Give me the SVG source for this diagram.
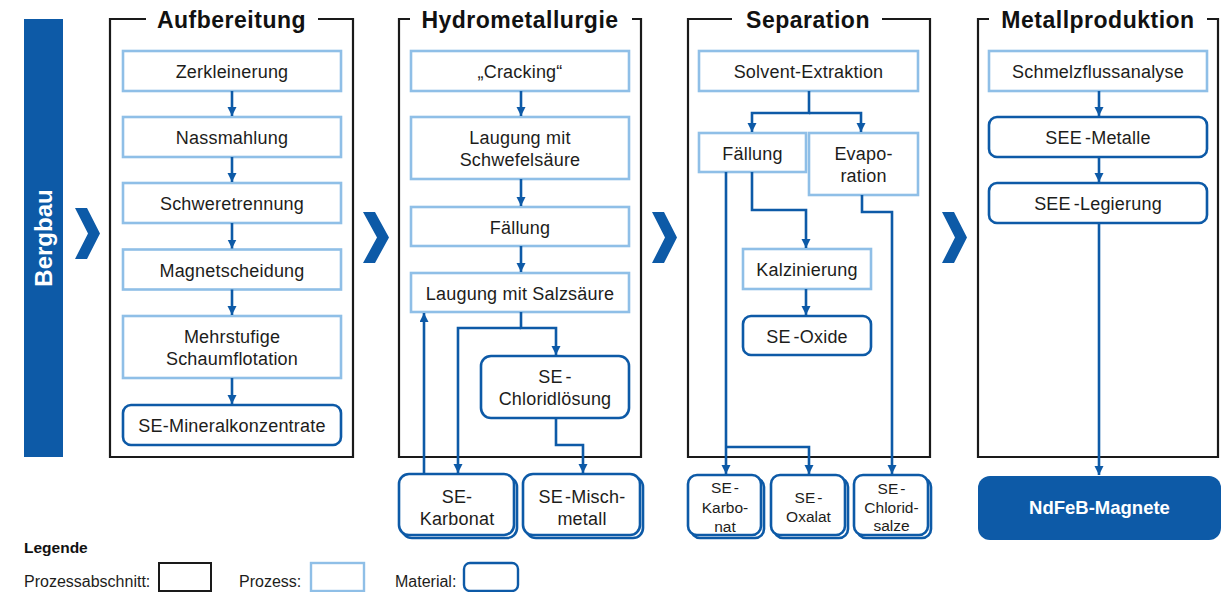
<svg xmlns="http://www.w3.org/2000/svg" width="1229" height="592" viewBox="0 0 1229 592">
<style>
.sec{fill:none;stroke:#1a1a1a;stroke-width:2.2}
.proc{fill:#fff;stroke:#8fbfe7;stroke-width:2.6}
.mat{fill:#fff;stroke:#0d5aa7;stroke-width:2.6}
.t{font-family:"Liberation Sans",Arial,sans-serif;font-size:18px;fill:#1d1d1b;text-anchor:middle;letter-spacing:0.2px}
.ts{font-size:15.5px;letter-spacing:0}
.title{font-family:"Liberation Sans",Arial,sans-serif;font-weight:bold;font-size:23px;letter-spacing:0.5px;fill:#111;text-anchor:middle}
.chev{fill:#0d5aa7}
.conn path{fill:none;stroke:#0d5aa7;stroke-width:2.6}
.leg{font-family:"Liberation Sans",Arial,sans-serif;font-size:16px;fill:#1d1d1b}
</style>
<defs>
<marker id="ah" markerUnits="userSpaceOnUse" markerWidth="10" markerHeight="10" refX="9" refY="4.5" orient="auto">
<path d="M0,0 L9,4.5 L0,9 z" fill="#0d5aa7"/>
</marker>
</defs>
<rect width="1229" height="592" fill="#fff"/>

<g id="bergbau">
<rect x="24" y="19" width="39" height="438" fill="#0d5aa7"/>
<text transform="translate(52,238) rotate(-90)" font-family="'Liberation Sans',Arial,sans-serif" font-weight="bold" font-size="24" fill="#fff" text-anchor="middle">Bergbau</text>
</g>

<g id="chevrons">
<polygon class="chev" points="75,208 87,208 100,233.5 87,259 75,259 88,233.5"/>
<polygon class="chev" points="363,212 375,212 389,237.5 375,263 363,263 377,237.5"/>
<polygon class="chev" points="652,212 664,212 677,237.5 664,263 652,263 665,237.5"/>
<polygon class="chev" points="942,212 954,212 967,237.5 954,263 942,263 955,237.5"/>
</g>

<g id="sec-aufbereitung">
<path class="sec" d="M146,19 H110 V457 H353 V19 H318"/>
<text class="title" x="231.5" y="28">Aufbereitung</text>
</g>
<g id="sec-hydro">
<path class="sec" d="M410,19 H399 V457 H641 V19 H632"/>
<text class="title" x="520" y="28">Hydrometallurgie</text>
</g>
<g id="sec-separation">
<path class="sec" d="M732,19 H688 V457 H930 V19 H882"/>
<text class="title" x="808" y="28">Separation</text>
</g>
<g id="sec-metall">
<path class="sec" d="M989,19 H978 V457 H1218 V19 H1207"/>
<text class="title" x="1098" y="28">Metallproduktion</text>
</g>

<!-- Aufbereitung nodes -->
<g id="n-zerkleinerung"><rect class="proc" x="123" y="51" width="218" height="40"/><text class="t" x="232" y="78">Zerkleinerung</text></g>
<g id="n-nassmahlung"><rect class="proc" x="123" y="117" width="218" height="40"/><text class="t" x="232" y="144">Nassmahlung</text></g>
<g id="n-schweretrennung"><rect class="proc" x="123" y="183" width="218" height="40"/><text class="t" x="232" y="210">Schweretrennung</text></g>
<g id="n-magnetscheidung"><rect class="proc" x="123" y="249.5" width="218" height="40"/><text class="t" x="232" y="276.5">Magnetscheidung</text></g>
<g id="n-schaumflotation"><rect class="proc" x="123" y="316" width="218" height="62"/><text class="t" x="232" y="342.5">Mehrstufige</text><text class="t" x="232" y="365">Schaumflotation</text></g>
<g id="n-mineralkonzentrate"><rect class="mat" x="123" y="405" width="218" height="40" rx="8"/><text class="t" x="232" y="432">SE-Mineralkonzentrate</text></g>

<!-- Hydrometallurgie nodes -->
<g id="n-cracking"><rect class="proc" x="411" y="51" width="218" height="40"/><text class="t" x="520" y="78">„Cracking“</text></g>
<g id="n-laugung-schwefel"><rect class="proc" x="411" y="117" width="218" height="62"/><text class="t" x="520" y="143.5">Laugung mit</text><text class="t" x="520" y="166">Schwefelsäure</text></g>
<g id="n-faellung-h"><rect class="proc" x="411" y="207" width="218" height="39"/><text class="t" x="520" y="233.5">Fällung</text></g>
<g id="n-laugung-salz"><rect class="proc" x="411" y="273" width="218" height="39"/><text class="t" x="520" y="299.5">Laugung mit Salzsäure</text></g>
<g id="n-chloridloesung"><rect class="mat" x="481" y="356" width="148" height="62" rx="10"/><text class="t" x="555" y="382.5">SE<tspan dx="3">-</tspan></text><text class="t" x="555" y="405">Chloridlösung</text></g>
<g id="n-karbonat-h"><rect class="mat" x="402" y="477" width="115" height="61" rx="10"/><rect class="mat" x="399" y="474" width="115" height="61" rx="10"/><text class="t" x="457" y="503">SE-</text><text class="t" x="457" y="525">Karbonat</text></g>
<g id="n-mischmetall"><rect class="mat" x="526" y="477" width="117" height="61" rx="10"/><rect class="mat" x="523" y="474" width="117" height="61" rx="10"/><text class="t" x="582" y="503">SE<tspan dx="2">-</tspan>Misch-</text><text class="t" x="582" y="525">metall</text></g>

<!-- Separation nodes -->
<g id="n-solvent"><rect class="proc" x="699" y="51" width="219" height="40"/><text class="t" x="808.5" y="78">Solvent-Extraktion</text></g>
<g id="n-faellung-s"><rect class="proc" x="699" y="133" width="107" height="39"/><text class="t" x="752.5" y="159.5">Fällung</text></g>
<g id="n-evaporation"><rect class="proc" x="809" y="133" width="109" height="62"/><text class="t" x="863.5" y="160">Evapo-</text><text class="t" x="863.5" y="182">ration</text></g>
<g id="n-kalzinierung"><rect class="proc" x="743" y="249" width="128" height="40"/><text class="t" x="807" y="276">Kalzinierung</text></g>
<g id="n-oxide"><rect class="mat" x="743" y="316" width="128" height="39" rx="8"/><text class="t" x="807" y="342.5">SE<tspan dx="3">-</tspan>Oxide</text></g>
<g id="n-karbonat-s"><rect class="mat" x="691" y="478" width="73" height="60" rx="9"/><rect class="mat" x="688" y="475" width="73" height="60" rx="9"/><text class="t ts" x="725" y="493">SE<tspan dx="2">-</tspan></text><text class="t ts" x="725" y="513">Karbo-</text><text class="t ts" x="725" y="532">nat</text></g>
<g id="n-oxalat"><rect class="mat" x="774" y="478" width="74" height="60" rx="9"/><rect class="mat" x="771" y="475" width="74" height="60" rx="9"/><text class="t ts" x="808.5" y="503">SE<tspan dx="2">-</tspan></text><text class="t ts" x="808.5" y="522">Oxalat</text></g>
<g id="n-chloridsalze"><rect class="mat" x="857" y="478" width="74" height="60" rx="9"/><rect class="mat" x="854" y="475" width="74" height="60" rx="9"/><text class="t ts" x="891.5" y="494">SE<tspan dx="2">-</tspan></text><text class="t ts" x="891.5" y="513">Chlorid-</text><text class="t ts" x="891.5" y="531">salze</text></g>

<!-- Metallproduktion nodes -->
<g id="n-schmelz"><rect class="proc" x="989" y="51" width="218" height="40"/><text class="t" x="1098" y="78">Schmelzflussanalyse</text></g>
<g id="n-see-metalle"><rect class="mat" x="989" y="117" width="218" height="40" rx="8"/><text class="t" x="1098" y="144">SEE<tspan dx="3">-</tspan>Metalle</text></g>
<g id="n-see-legierung"><rect class="mat" x="989" y="183" width="218" height="40" rx="8"/><text class="t" x="1098" y="210">SEE<tspan dx="3">-</tspan>Legierung</text></g>
<g id="n-ndfeb"><rect x="978" y="476" width="243" height="64" rx="12" fill="#0d5aa7"/><text x="1099.5" y="514" font-family="'Liberation Sans',Arial,sans-serif" font-weight="bold" font-size="18.5" fill="#fff" text-anchor="middle">NdFeB-Magnete</text></g>

<g id="connectors" class="conn">
<path d="M232,91 V116" marker-end="url(#ah)"/>
<path d="M232,157 V182" marker-end="url(#ah)"/>
<path d="M232,223 V248.5" marker-end="url(#ah)"/>
<path d="M232,289.5 V315" marker-end="url(#ah)"/>
<path d="M232,378 V404" marker-end="url(#ah)"/>

<path d="M521,91 V116" marker-end="url(#ah)"/>
<path d="M521,179 V206" marker-end="url(#ah)"/>
<path d="M521,246 V272" marker-end="url(#ah)"/>
<path d="M521,312 V328 H556 V355" marker-end="url(#ah)"/>
<path d="M521,328 H458 V473" marker-end="url(#ah)"/>
<path d="M424,474 V313" marker-end="url(#ah)"/>
<path d="M556,418 V445 H583 V473" marker-end="url(#ah)"/>

<path d="M809,91 V113 H752 V132" marker-end="url(#ah)"/>
<path d="M809,113 H861 V132" marker-end="url(#ah)"/>
<path d="M752,172 V210 H806 V248" marker-end="url(#ah)"/>
<path d="M806,289 V315" marker-end="url(#ah)"/>
<path d="M726,172 V474" marker-end="url(#ah)"/>
<path d="M726,447 H809 V474" marker-end="url(#ah)"/>
<path d="M862,195 V212 H892 V474" marker-end="url(#ah)"/>

<path d="M1099,91 V116" marker-end="url(#ah)"/>
<path d="M1099,157 V182" marker-end="url(#ah)"/>
<path d="M1099,223 V475" marker-end="url(#ah)"/>
</g>

<g id="legend">
<text x="24" y="553" font-family="'Liberation Sans',Arial,sans-serif" font-weight="bold" font-size="15.5" fill="#111">Legende</text>
<text class="leg" x="24" y="587">Prozessabschnitt:</text>
<rect x="159" y="563" width="52" height="28" fill="none" stroke="#1a1a1a" stroke-width="2"/>
<text class="leg" x="239" y="587">Prozess:</text>
<rect x="311" y="563" width="53" height="28" fill="none" stroke="#8fbfe7" stroke-width="2.4"/>
<text class="leg" x="395" y="587">Material:</text>
<rect x="464" y="563" width="54" height="28" rx="6" fill="none" stroke="#0d5aa7" stroke-width="2.4"/>
</g>
</svg>
